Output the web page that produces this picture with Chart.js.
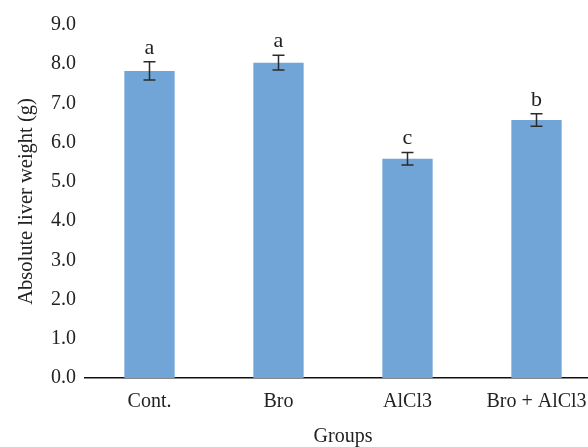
<!DOCTYPE html>
<html>
<head>
<meta charset="utf-8">
<script src="https://cdn.jsdelivr.net/npm/chart.js@4/dist/chart.umd.min.js"></script>
<style>
  html, body { margin: 0; padding: 0; background: #fff; overflow: hidden; }
  #wrap { width: 588px; height: 447px; overflow: hidden; }
</style>
</head>
<body>
<div id="wrap"><canvas id="chart" width="620" height="453"></canvas></div>
<script>
const groups = ['Cont.', 'Bro', 'AlCl3', 'Bro + AlCl3'];
const liverWeight = [7.83, 8.04, 5.59, 6.58];
const liverError = [0.23, 0.19, 0.16, 0.16];
const letters = ['a', 'a', 'c', 'b'];

const SERIF = '"Liberation Serif", "DejaVu Serif", serif';

// error bars + significance letters on top of the bars
const errorBars = {
  id: 'errorBars',
  afterDatasetsDraw(chart) {
    const ctx = chart.ctx;
    const y = chart.scales.y;
    const meta = chart.getDatasetMeta(0);
    ctx.save();
    ctx.strokeStyle = '#2b2b2b';
    ctx.lineWidth = 1.5;
    meta.data.forEach((bar, i) => {
      const top = y.getPixelForValue(liverWeight[i] + liverError[i]);
      const bottom = y.getPixelForValue(liverWeight[i] - liverError[i]);
      ctx.beginPath();
      ctx.moveTo(bar.x, top);
      ctx.lineTo(bar.x, bottom);
      ctx.moveTo(bar.x - 6, top);
      ctx.lineTo(bar.x + 6, top);
      ctx.moveTo(bar.x - 6, bottom);
      ctx.lineTo(bar.x + 6, bottom);
      ctx.stroke();

      ctx.fillStyle = '#222';
      ctx.font = '22px ' + SERIF;
      ctx.textAlign = 'center';
      ctx.textBaseline = 'alphabetic';
      ctx.fillText(letters[i], bar.x, top - 8);
    });
    ctx.restore();
  },
};

new Chart(document.getElementById('chart'), {
  type: 'bar',
  data: {
    labels: groups,
    datasets: [
      {
        data: liverWeight,
        backgroundColor: '#72a5d7',
        barPercentage: 0.39,
        categoryPercentage: 1,
      },
    ],
  },
  options: {
    responsive: false,
    animation: false,
    layout: { padding: { top: 25, right: 19, left: 0, bottom: 0 } },
    plugins: {
      legend: { display: false },
      tooltip: { enabled: false },
    },
    scales: {
      x: {
        grid: { display: false, drawTicks: false },
        border: { display: true, color: '#111', width: 1.5 },
        ticks: {
          color: '#222',
          font: { family: SERIF, size: 20 },
          padding: 12,
        },
        title: {
          display: true,
          text: 'Groups',
          color: '#222',
          font: { family: SERIF, size: 20 },
          padding: { top: 19, bottom: 4 },
        },
        afterFit(scale) {
          scale.height = 75;
        },
      },
      y: {
        min: 0,
        max: 9,
        grid: { display: false, drawTicks: false },
        border: { display: false },
        ticks: {
          stepSize: 1,
          color: '#222',
          font: { family: SERIF, size: 20 },
          padding: 9,
          callback: (v) => v.toFixed(1),
        },
        title: {
          display: true,
          text: 'Absolute liver weight (g)',
          color: '#222',
          font: { family: SERIF, size: 20.5 },
          padding: { top: 14 },
        },
        afterFit(scale) {
          scale.width = 85;
        },
      },
    },
  },
  plugins: [errorBars],
});
</script>
</body>
</html>
